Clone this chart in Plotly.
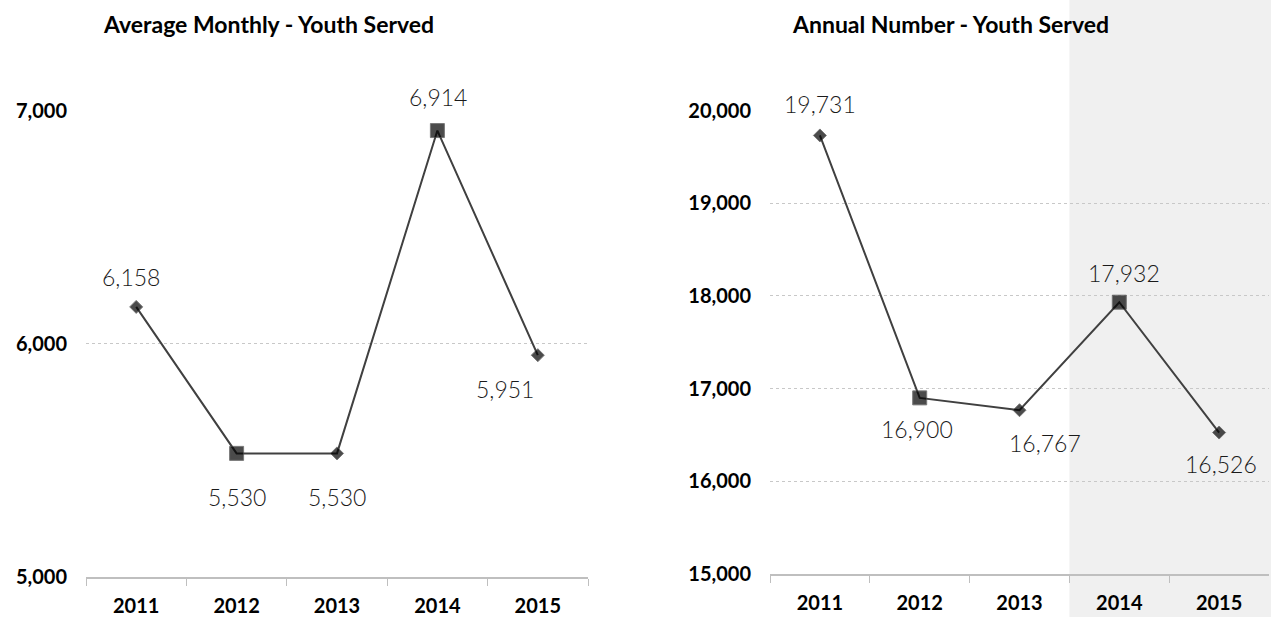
import plotly.graph_objects as go

years = ["2011", "2012", "2013", "2014", "2015"]
monthly = [6158, 5530, 5530, 6914, 5951]
annual = [19731, 16900, 16767, 17932, 16526]
monthly_ticks = [5000, 6000, 7000]
annual_ticks = [15000, 16000, 17000, 18000, 19000, 20000]
highlight_from = "2014"

title_left = "Average Monthly - Youth Served"
title_right = "Annual Number - Youth Served"

# styling (not data)
symbols = ["diamond", "square", "diamond", "square", "diamond"]
sizes = [10, 14, 10, 14, 10]
left_shift = [(-5, 30), (0, -44), (0, -44), (1, 34), (-33, -34)]
right_shift = [(0, 31), (-3, -31), (25, -33), (5, 29), (2, -31)]

W, H = 1271, 617
dom_x1 = [86 / W, 588 / W]
dom_x2 = [770 / W, 1269 / W]
dom_y1 = [(H - 577) / H, (H - 110.5) / H]
dom_y2 = [(H - 574) / H, (H - 110.5) / H]

FONT = "Lato"
LINE = "#404040"

fig = go.Figure()
for xa, ya, vals in (("x", "y", monthly), ("x2", "y2", annual)):
    fig.add_trace(go.Scatter(
        x=years, y=vals, xaxis=xa, yaxis=ya, mode="lines+markers",
        line=dict(color=LINE, width=2),
        marker=dict(symbol=symbols, size=sizes, color="black",
                    line=dict(color=LINE, width=1)),
        cliponaxis=False, showlegend=False, hoverinfo="skip"))

annotations = []
for xa, ya, vals, shifts in (("x", "y", monthly, left_shift), ("x2", "y2", annual, right_shift)):
    for i, (v, (dx, dy)) in enumerate(zip(vals, shifts)):
        annotations.append(dict(
            x=i, y=v, xref=xa, yref=ya, text=f"{v:,}", showarrow=False,
            xshift=dx, yshift=dy,
            font=dict(family=FONT, size=23, color="#1a1a1a", weight=300)))

for txt, cx in ((title_left, 268), (title_right, 950)):
    annotations.append(dict(x=cx / W, y=1 - 24 / H, xref="paper", yref="paper",
                            xanchor="center", yanchor="middle",
                            text=txt, showarrow=False,
                            font=dict(family=FONT, size=23, color="black", weight="bold")))

# highlight shading from 2014 onward, derived from the category axis
idx = years.index(highlight_from)
x0_paper = dom_x2[0] + idx / len(years) * (dom_x2[1] - dom_x2[0])
shapes = [dict(type="rect", xref="paper", yref="paper", x0=x0_paper, x1=1,
               y0=0, y1=1, fillcolor="#f0f0f0", line=dict(width=0), layer="below")]

n = len(years)
xaxis_common = dict(type="category", range=[-0.5, n - 0.5], showgrid=False, showline=True,
                    linecolor="#bfbfbf", linewidth=1.5, ticks="outside", tickson="boundaries",
                    ticklen=7, tickwidth=1, tickcolor="#bfbfbf", ticklabelstandoff=10,
                    tickfont=dict(family=FONT, size=20, color="black", weight="bold"),
                    zeroline=False, fixedrange=True, automargin=False)
yaxis_common = dict(showgrid=True, gridcolor="#c8c8c8", griddash="dot", gridwidth=1,
                    showline=False, ticks="", zeroline=False, ticklabelstandoff=18,
                    tickfont=dict(family=FONT, size=20, color="black", weight="bold"),
                    tickformat=",d", fixedrange=True, automargin=False)

fig.update_layout(
    width=W, height=H, margin=dict(l=0, r=0, t=0, b=0, autoexpand=False),
    paper_bgcolor="white", plot_bgcolor="rgba(0,0,0,0)",
    xaxis=dict(domain=dom_x1, anchor="y", **xaxis_common),
    xaxis2=dict(domain=dom_x2, anchor="y2", **xaxis_common),
    yaxis=dict(domain=dom_y1, anchor="x", range=[monthly_ticks[0], monthly_ticks[-1]],
               tickvals=monthly_ticks, **yaxis_common),
    yaxis2=dict(domain=dom_y2, anchor="x2", range=[annual_ticks[0], annual_ticks[-1]],
                tickvals=annual_ticks, **yaxis_common),
    annotations=annotations, shapes=shapes,
)

fig.write_html("out.html", config={"displayModeBar": False},
               post_script="document.body.style.margin='0px';"
                           "document.body.style.overflow='hidden';")
